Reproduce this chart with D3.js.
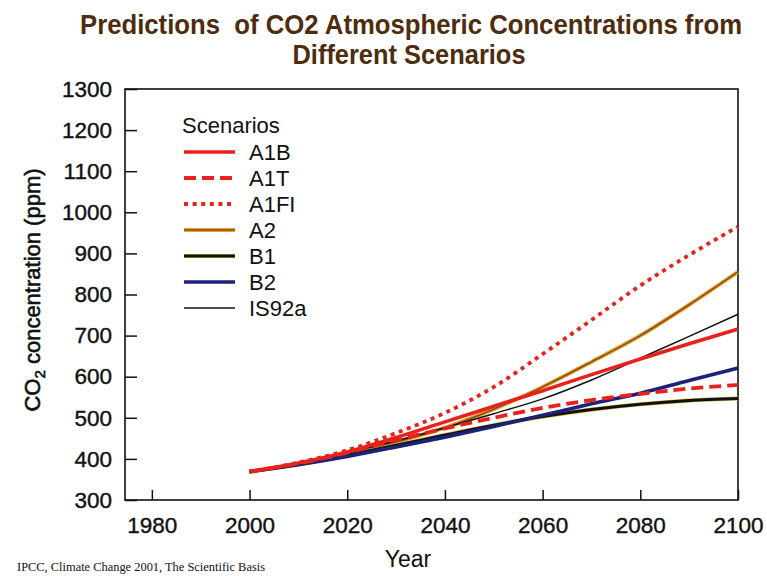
<!DOCTYPE html>
<html>
<head>
<meta charset="utf-8">
<script src="https://cdn.jsdelivr.net/npm/d3@7/dist/d3.min.js"></script>
<style>
  html, body { margin: 0; padding: 0; background: #fff; }
  svg { display: block; }
</style>
</head>
<body>
<svg id="chart" width="767" height="576"></svg>
<script>
// CO2 scenario predictions -- IPCC TAR style line chart

var years = [2000, 2010, 2020, 2030, 2040, 2050, 2060, 2070, 2080, 2090, 2100];

var a1b   = [369, 390, 417, 452, 490, 528, 566, 605, 643, 680, 716];
var a1t   = [369, 389, 415, 446, 474, 500, 524, 543, 558, 571, 580];
var a1fi  = [369, 391, 421, 463, 512, 575, 655, 738, 822, 896, 965];
var a2    = [369, 388, 412, 441, 476, 521, 575, 636, 700, 775, 855];
var b1    = [369, 387, 409, 433, 458, 482, 503, 520, 533, 542, 547];
var b2    = [369, 386, 406, 429, 453, 479, 506, 534, 560, 591, 621];
var is92a = [369, 390, 415, 444, 476, 510, 546, 592, 645, 698, 752];

var scenarioNames = ["A1B", "A1T", "A1FI", "A2", "B1", "B2", "IS92a"];
var scenarioValues = [a1b, a1t, a1fi, a2, b1, b2, is92a];

var xTicks = [1980, 2000, 2020, 2040, 2060, 2080, 2100];
var yTicks = [300, 400, 500, 600, 700, 800, 900, 1000, 1100, 1200, 1300];

// how each scenario is drawn (underlay = the faint coloured fringe of the scan)
var styles = {
  "A1B":   { color: "#e8221b", width: 3.6 },
  "A1T":   { color: "#e8221b", width: 3.8, dash: "12,6" },
  "A1FI":  { color: "#e8221b", width: 3.8, dash: "4,4.6" },
  "A2":    { color: "#8c4b1e", width: 1.6, under: "#e2a52c", underWidth: 4 },
  "B1":    { color: "#111", width: 3, under: "#d8c040", underWidth: 4.2 },
  "B2":    { color: "#1b2278", width: 3.6 },
  "IS92a": { color: "#111", width: 1.5 }
};
var drawOrder = ["A2", "B1", "B2", "IS92a", "A1B", "A1T", "A1FI"];

var series = scenarioNames.map(function (name, i) {
  return { name: name, points: years.map(function (y, j) {
    return { year: y, value: scenarioValues[i][j] };
  }) };
});

var svg = d3.select("#chart");
var frame = { left: 125, right: 738, top: 89, bottom: 500 };

var x = d3.scaleLinear().domain([1974.5, 2100]).range([frame.left, frame.right]);
var y = d3.scaleLinear().domain([300, 1300]).range([frame.bottom, frame.top]);

///////////////////////////////////////////////////////////////////////////////
// Title

var title = svg.append("g")
  .attr("font-family", "'Liberation Sans', Arial, sans-serif")
  .attr("font-weight", "bold")
  .attr("font-size", 25.5)
  .attr("fill", "#4e2c0e")
  .attr("text-anchor", "middle");

title.append("text")
  .attr("transform", "translate(411,34) scale(1,1.08)")
  .style("white-space", "pre")
  .attr("textLength", 662).attr("lengthAdjust", "spacingAndGlyphs")
  .text("Predictions  of CO2 Atmospheric Concentrations from");

title.append("text")
  .attr("transform", "translate(409,64) scale(1,1.08)")
  .attr("textLength", 233).attr("lengthAdjust", "spacingAndGlyphs")
  .text("Different Scenarios");

///////////////////////////////////////////////////////////////////////////////
// Axes

var font = "'Liberation Sans', Arial, Helvetica, sans-serif";

var yAxis = svg.append("g")
  .attr("transform", "translate(" + frame.left + ",0)")
  .call(d3.axisLeft(y).tickValues(yTicks).tickFormat(d3.format("d"))
        .tickSize(-12).tickSizeOuter(0).tickPadding(13));

var xAxis = svg.append("g")
  .attr("transform", "translate(0," + frame.bottom + ")")
  .call(d3.axisBottom(x).tickValues(xTicks).tickFormat(d3.format("d"))
        .tickSize(-10).tickSizeOuter(0).tickPadding(17));

[yAxis, xAxis].forEach(function (g) {
  g.select(".domain").remove();
  g.selectAll(".tick line").attr("stroke", "#111").attr("stroke-width", 1.5);
  g.selectAll(".tick text")
    .attr("font-family", font)
    .attr("font-size", 22.5)
    .attr("fill", "#111")
    .attr("stroke", "#111")
    .attr("stroke-width", 0.4);
});

svg.append("rect")
  .attr("x", frame.left).attr("y", frame.top)
  .attr("width", frame.right - frame.left)
  .attr("height", frame.bottom - frame.top)
  .attr("fill", "none")
  .attr("stroke", "#111")
  .attr("stroke-width", 1.6);

svg.append("text")
  .attr("x", 408).attr("y", 567)
  .attr("text-anchor", "middle")
  .attr("font-family", font)
  .attr("font-size", 23)
  .attr("fill", "#111")
  .text("Year");

var ylab = svg.append("text")
  .attr("transform", "translate(40,290) rotate(-90)")
  .attr("text-anchor", "middle")
  .attr("font-family", font)
  .attr("font-size", 22)
  .attr("fill", "#111")
  .attr("stroke", "#111")
  .attr("stroke-width", 0.6);
ylab.append("tspan").text("CO");
ylab.append("tspan").attr("font-size", 15).attr("dy", 5).text("2");
ylab.append("tspan").attr("dy", -5).style("white-space", "pre").text(" concentration (ppm)");

svg.append("text")
  .attr("x", 17).attr("y", 571)
  .attr("font-family", "'Liberation Serif', 'Times New Roman', serif")
  .attr("font-size", 13)
  .attr("fill", "#111")
  .attr("textLength", 248).attr("lengthAdjust", "spacingAndGlyphs")
  .text("IPCC, Climate Change 2001, The Scientific Basis");

///////////////////////////////////////////////////////////////////////////////
// Scenario lines

var line = d3.line()
  .x(function (d) { return x(d.year); })
  .y(function (d) { return y(d.value); })
  .curve(d3.curveMonotoneX);

var plot = svg.append("g");

var drawStroke = function (sel, st) {
  if (st.under)
    sel.clone().attr("stroke", st.under).attr("stroke-width", st.underWidth).lower();
  sel.attr("stroke", st.color)
    .attr("stroke-width", st.width)
    .attr("stroke-dasharray", st.dash || null);
};

drawOrder.forEach(function (name) {
  var s = series.find(function (d) { return d.name === name; });
  var g = plot.append("g");
  var p = g.append("path")
    .datum(s.points)
    .attr("fill", "none")
    .attr("d", line);
  drawStroke(p, styles[name]);
});

///////////////////////////////////////////////////////////////////////////////
// Legend

var legend = svg.append("g")
  .attr("font-family", font)
  .attr("fill", "#111");

legend.append("text")
  .attr("x", 182).attr("y", 133)
  .attr("font-size", 22)
  .text("Scenarios");

scenarioNames.forEach(function (name, i) {
  var ly = 152 + i * 26;
  var row = legend.append("g");
  var l = row.append("line")
    .attr("x1", 184).attr("x2", 235)
    .attr("y1", ly).attr("y2", ly);
  drawStroke(l, styles[name]);
  row.append("text")
    .attr("x", 249).attr("y", ly + 8)
    .attr("font-size", 22)
    .text(name);
});
</script>
</body>
</html>
